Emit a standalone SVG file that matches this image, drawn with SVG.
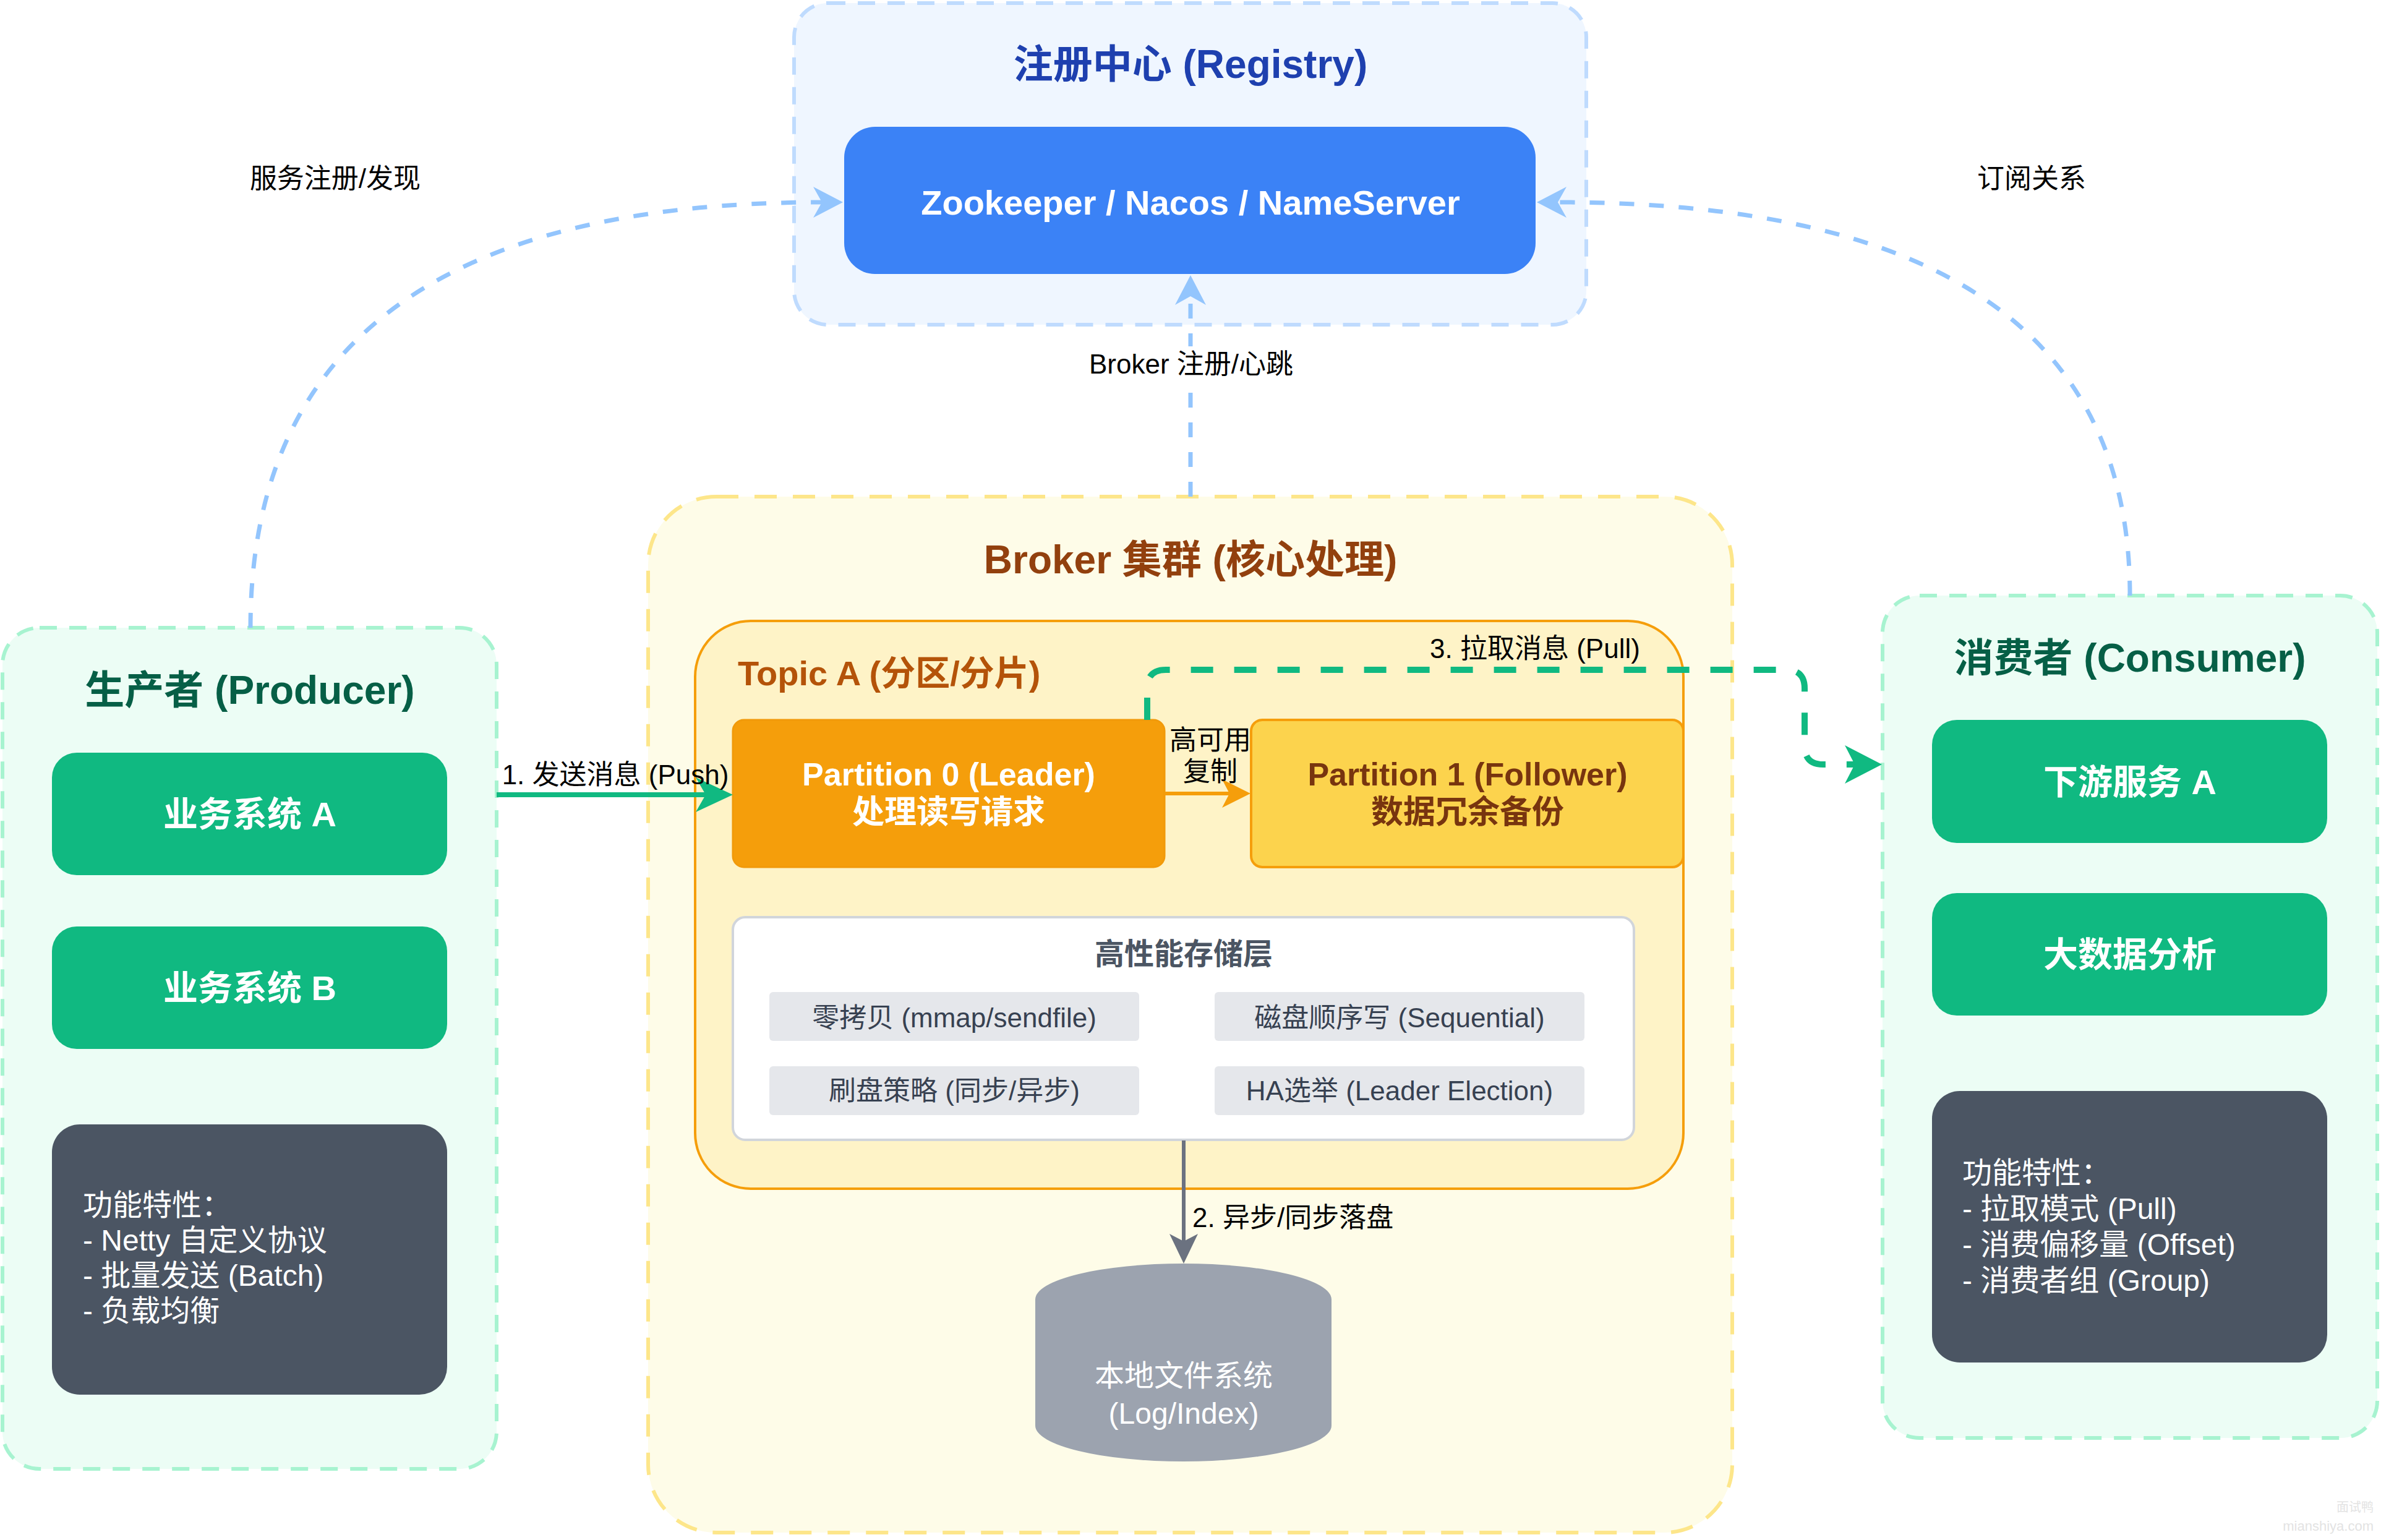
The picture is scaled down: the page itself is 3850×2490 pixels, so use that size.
<svg xmlns="http://www.w3.org/2000/svg" width="3850" height="2490" viewBox="0 0 3850 2490">
<style>
text{font-family:"Liberation Sans","Noto Sans CJK SC",sans-serif;dominant-baseline:central}
.c{text-anchor:middle}
.b{font-weight:bold}
.t64{font-size:64px}
.lbl{font-size:44px;fill:#000}
.grp-g{fill:#ecfdf5;stroke:#a7f3d0;stroke-width:6;stroke-dasharray:28 20}
.svc{fill:#10b981}
.svct{font-size:56px;font-weight:bold;fill:#fff}
.dark{fill:#4b5563}
.feat{font-size:48px;fill:#fff}
.item{fill:#e5e7eb}
.itemt{font-size:44px;fill:#374151}
.blue{fill:none;stroke:#93c5fd;stroke-width:7;stroke-dasharray:24 24}
</style>
<defs>
<marker id="aBlue" markerUnits="userSpaceOnUse" markerWidth="48" markerHeight="50" viewBox="0 0 48 50" refX="14" refY="25" orient="auto"><path d="M0,0 L48,25 L0,50 L14,25 Z" fill="#93c5fd"/></marker>
<marker id="aGreen" markerUnits="userSpaceOnUse" markerWidth="60" markerHeight="56" viewBox="0 0 60 56" refX="16" refY="28" orient="auto"><path d="M0,0 L60,28 L0,56 L16,28 Z" fill="#10b981"/></marker>
<marker id="aGreen2" markerUnits="userSpaceOnUse" markerWidth="60" markerHeight="62" viewBox="0 0 60 62" refX="16" refY="31" orient="auto"><path d="M0,0 L60,31 L0,62 L16,31 Z" fill="#10b981"/></marker>
<marker id="aOrange" markerUnits="userSpaceOnUse" markerWidth="46" markerHeight="46" viewBox="0 0 46 46" refX="12" refY="23" orient="auto"><path d="M0,0 L46,23 L0,46 L12,23 Z" fill="#f59e0b"/></marker>
<marker id="aGray" markerUnits="userSpaceOnUse" markerWidth="48" markerHeight="46" viewBox="0 0 48 46" refX="12" refY="23" orient="auto"><path d="M0,0 L48,23 L0,46 L12,23 Z" fill="#6b7280"/></marker>
</defs>
<rect width="3850" height="2490" fill="#ffffff"/>

<g id="registry">
<rect x="1284" y="5" width="1281" height="520" rx="55" fill="#eff6ff" stroke="#bfdbfe" stroke-width="6" stroke-dasharray="28 20"/>
<text class="c b t64" x="1925" y="104" fill="#1e40af">注册中心 (Registry)</text>
</g>
<g id="nameserver">
<rect x="1365" y="205" width="1118" height="238" rx="50" fill="#3b82f6"/>
<text class="c b" x="1925" y="327" font-size="56" fill="#ffffff">Zookeeper / Nacos / NameServer</text>
</g>

<g id="producer">
<rect class="grp-g" x="4" y="1015" width="799" height="1360" rx="60"/>
<text class="c b t64" x="404" y="1116" fill="#065f46">生产者 (Producer)</text>
</g>
<g id="bizA">
<rect class="svc" x="84" y="1217" width="639" height="198" rx="40"/>
<text class="c svct" x="404" y="1316">业务系统 A</text>
</g>
<g id="bizB">
<rect class="svc" x="84" y="1498" width="639" height="198" rx="40"/>
<text class="c svct" x="404" y="1597">业务系统 B</text>
</g>
<g id="producerFeatures">
<rect class="dark" x="84" y="1818" width="639" height="437" rx="45"/>
<text class="feat" x="134" y="1948">功能特性：</text>
<text class="feat" x="134" y="2005">- Netty 自定义协议</text>
<text class="feat" x="134" y="2062">- 批量发送 (Batch)</text>
<text class="feat" x="134" y="2119">- 负载均衡</text>
</g>

<g id="broker">
<rect x="1048" y="803" width="1753" height="1675" rx="110" fill="#fefce8" stroke="#fde68a" stroke-width="6" stroke-dasharray="36 26"/>
<text class="c b t64" x="1925" y="905" fill="#92400e">Broker 集群 (核心处理)</text>
</g>
<g id="topic">
<rect x="1124" y="1004" width="1598" height="918" rx="90" fill="#fef3c7" stroke="#f59e0b" stroke-width="4"/>
<text class="b" x="1193" y="1088" font-size="56" fill="#b45309">Topic A (分区/分片)</text>
</g>
<g id="partition0">
<rect x="1185" y="1164" width="698" height="238" rx="18" fill="#f59e0b" stroke="#f19a0b" stroke-width="3"/>
<text class="c b" x="1534" y="1252" font-size="52" fill="#ffffff">Partition 0 (Leader)</text>
<text class="c b" x="1534" y="1313" font-size="52" fill="#ffffff">处理读写请求</text>
</g>
<g id="partition1">
<rect x="2023" y="1164" width="699" height="238" rx="18" fill="#fcd34d" stroke="#f59e0b" stroke-width="4"/>
<text class="c b" x="2373" y="1252" font-size="52" fill="#78350f">Partition 1 (Follower)</text>
<text class="c b" x="2373" y="1313" font-size="52" fill="#78350f">数据冗余备份</text>
</g>
<g id="storage">
<rect x="1185" y="1483" width="1457" height="360" rx="20" fill="#ffffff" stroke="#d1d5db" stroke-width="4"/>
<text class="c b" x="1914" y="1542" font-size="48" fill="#4b5563">高性能存储层</text>
<rect class="item" x="1244" y="1604" width="598" height="79" rx="6"/>
<text class="c itemt" x="1543" y="1645">零拷贝 (mmap/sendfile)</text>
<rect class="item" x="1964" y="1604" width="598" height="79" rx="6"/>
<text class="c itemt" x="2263" y="1645">磁盘顺序写 (Sequential)</text>
<rect class="item" x="1244" y="1724" width="598" height="79" rx="6"/>
<text class="c itemt" x="1543" y="1763">刷盘策略 (同步/异步)</text>
<rect class="item" x="1964" y="1724" width="598" height="79" rx="6"/>
<text class="c itemt" x="2263" y="1763">HA选举 (Leader Election)</text>
</g>
<g id="filesystem">
<path d="M1674,2101 A239.5,58 0 0 1 2153,2101 L2153,2305 A239.5,58 0 0 1 1674,2305 Z" fill="#9ca3af"/>
<text class="c" x="1914" y="2224" font-size="48" fill="#ffffff">本地文件系统</text>
<text class="c" x="1914" y="2285" font-size="48" fill="#ffffff">(Log/Index)</text>
</g>

<g id="consumer">
<rect class="grp-g" x="3044" y="963" width="800" height="1362" rx="60"/>
<text class="c b t64" x="3444" y="1064" fill="#065f46">消费者 (Consumer)</text>
</g>
<g id="svcA">
<rect class="svc" x="3124" y="1164" width="639" height="199" rx="40"/>
<text class="c svct" x="3444" y="1264">下游服务 A</text>
</g>
<g id="bigdata">
<rect class="svc" x="3124" y="1444" width="639" height="198" rx="40"/>
<text class="c svct" x="3444" y="1543">大数据分析</text>
</g>
<g id="consumerFeatures">
<rect class="dark" x="3124" y="1764" width="639" height="439" rx="45"/>
<text class="feat" x="3173" y="1896">功能特性：</text>
<text class="feat" x="3173" y="1954">- 拉取模式 (Pull)</text>
<text class="feat" x="3173" y="2012">- 消费偏移量 (Offset)</text>
<text class="feat" x="3173" y="2070">- 消费者组 (Group)</text>
</g>

<g id="connectors">
<path class="blue" d="M405,1015 Q405,327 1329,327" marker-end="url(#aBlue)"/>
<text class="c lbl" x="542" y="288">服务注册/发现</text>
<path class="blue" d="M3444,963 Q3444,327 2519,327" marker-end="url(#aBlue)"/>
<text class="c lbl" x="3285" y="288">订阅关系</text>
<path class="blue" d="M1925,803 L1925,479" marker-end="url(#aBlue)"/>
<rect x="1755" y="560" width="340" height="58" fill="#ffffff"/>
<text class="c lbl" x="1926" y="588">Broker 注册/心跳</text>
<path d="M803,1285 L1141,1285" fill="none" stroke="#10b981" stroke-width="8" marker-end="url(#aGreen)"/>
<text class="c lbl" x="995" y="1252">1. 发送消息 (Push)</text>
<path d="M1883,1283 L1988,1283" fill="none" stroke="#f59e0b" stroke-width="6" marker-end="url(#aOrange)"/>
<text class="c lbl" x="1957" y="1196">高可用</text>
<text class="c lbl" x="1957" y="1247">复制</text>
<path d="M1855,1164 L1855,1113 Q1855,1083 1885,1083 L2888,1083 Q2918,1083 2918,1113 L2918,1206 Q2918,1236 2948,1236 L2999,1236" fill="none" stroke="#10b981" stroke-width="10" stroke-dasharray="36 34" marker-end="url(#aGreen2)"/>
<text class="c lbl" x="2482" y="1048">3. 拉取消息 (Pull)</text>
<path d="M1914,1844 L1914,2007" fill="none" stroke="#6b7280" stroke-width="6" marker-end="url(#aGray)"/>
<text class="lbl" x="1928" y="1968">2. 异步/同步落盘</text>
</g>

<g id="watermark">
<text x="3838" y="2437" font-size="20" fill="#e3e3e3" text-anchor="end">面试鸭</text>
<text x="3838" y="2467" font-size="22" fill="#e3e3e3" text-anchor="end">mianshiya.com</text>
</g>
</svg>
